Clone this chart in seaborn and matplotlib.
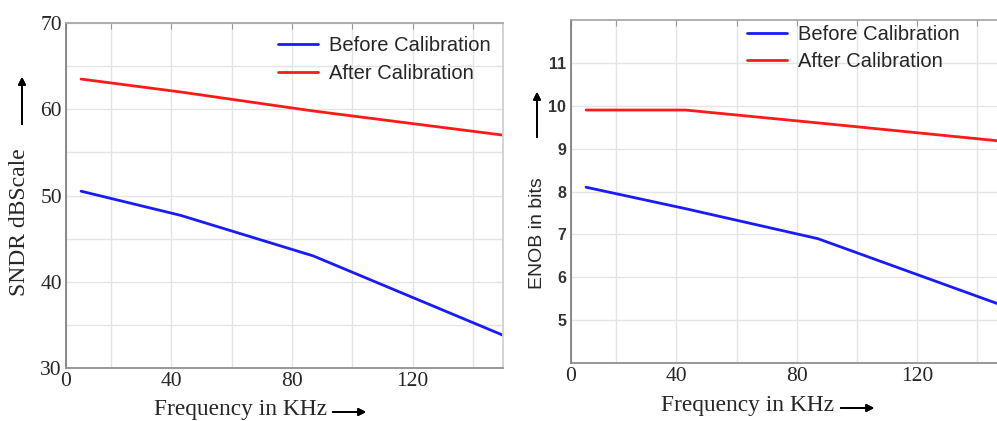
import pandas as pd
import seaborn as sns
import matplotlib.pyplot as plt

# data
freq = [10, 43, 87, 150]
sndr_before = [50.5, 47.7, 43.0, 33.8]
sndr_after = [63.5, 62.0, 59.8, 57.0]
enob_before = [8.1, 7.6, 6.9, 5.3]
enob_after = [9.9, 9.9, 9.6, 9.16]

series_names = ["Before Calibration", "After Calibration"]
x_tick_pos = [5, 20, 40, 60, 80, 100, 120, 140]
x_tick_labels = ["0", "", "40", "", "80", "", "120", ""]
sndr_ticks = [30, 35, 40, 45, 50, 55, 60, 65, 70]
sndr_tick_labels = ["30", "", "40", "", "50", "", "60", "", "70"]
enob_ticks = [5, 6, 7, 8, 9, 10, 11]
enob_tick_labels = ["5", "6", "7", "8", "9", "10", "11"]

sndr_df = pd.DataFrame({
    "freq": freq * 2,
    "val": sndr_before + sndr_after,
    "series": [series_names[0]] * len(freq) + [series_names[1]] * len(freq),
})
enob_df = pd.DataFrame({
    "freq": freq * 2,
    "val": enob_before + enob_after,
    "series": [series_names[0]] * len(freq) + [series_names[1]] * len(freq),
})

sns.set_style("white")
palette = {"Before Calibration": "#1a1aff", "After Calibration": "#ff1a1a"}

fig = plt.figure(figsize=(9.97, 4.21), dpi=100)
W, H = 997, 421
ax1 = fig.add_axes([66 / W, (H - 368) / H, (503 - 66) / W, (368 - 23) / H])
ax2 = fig.add_axes([571 / W, (H - 363) / H, (997 - 571) / W, (363 - 20) / H])

serif = "Liberation Serif"
sans = "Liberation Sans"

for ax, df, yl, yt, xmax in [
    (ax1, sndr_df, (30, 70), sndr_ticks, 150),
    (ax2, enob_df, (4, 12), enob_ticks, 146.5),
]:
    sns.lineplot(data=df, x="freq", y="val", hue="series", hue_order=series_names,
                 palette=palette, linewidth=2.0, ax=ax)
    ax.set_xlim(5, xmax)
    ax.set_ylim(*yl)
    ax.set_xticks(x_tick_pos)
    ax.set_xticklabels(x_tick_labels, fontfamily=serif, fontsize=15.5)
    ax.set_yticks(yt)
    ax.grid(True, color="#e4e4e4", linewidth=1.0)
    ax.tick_params(direction="in", length=4, color="#999999", top=True, right=False)
    ax.tick_params(axis="x", pad=3)
    ax.set_xlabel("")
    ax.set_ylabel("")
    for s in ax.spines.values():
        s.set_color("#a8a8a8")
        s.set_linewidth(1.3)
    ax.spines["left"].set_color("#808080")
    ax.spines["bottom"].set_color("#909090")

ax1.set_yticklabels(sndr_tick_labels, fontfamily=serif, fontsize=15.5)
ax1.tick_params(axis="y", pad=3)
ax2.set_yticklabels(enob_tick_labels, fontfamily=sans, fontsize=11.5, fontweight="bold", color="#333333")
ax2.spines["right"].set_visible(False)
ax1.spines["right"].set_color("#d0d0d0")

legend_kw = dict(loc="upper left", frameon=False, prop={"family": sans, "size": 14.5},
                 handlelength=2.0, handletextpad=0.55, borderpad=0, borderaxespad=0,
                 labelspacing=0.42)
ax1.legend(bbox_to_anchor=(0.485, 0.961), **legend_kw)
ax2.legend(bbox_to_anchor=(0.413, 0.986), **legend_kw)

# axis titles with arrows
fig.text(20 / W, (H - 222) / H, "SNDR dBScale", rotation=90, ha="center", va="center",
         fontfamily=serif, fontsize=17)
fig.text(538 / W, (H - 233) / H, "ENOB in bits", rotation=90, ha="center", va="center",
         fontfamily=sans, fontsize=14)
fig.text(240 / W, (H - 410) / H, "Frequency in KHz", ha="center", va="center",
         fontfamily=serif, fontsize=16.8)
fig.text(747 / W, (H - 406) / H, "Frequency in KHz", ha="center", va="center",
         fontfamily=serif, fontsize=16.8)

arrow = dict(arrowstyle="-|>", color="black", lw=1.3, mutation_scale=11)
for start, end in [((22, H - 127), (22, H - 74)), ((537, H - 140), (537, H - 89)),
                   ((330, H - 412), (369, H - 412)), ((838, H - 408), (877, H - 408))]:
    fig.add_artist(plt.annotate("", xy=end, xytext=start, xycoords="figure pixels",
                                textcoords="figure pixels", arrowprops=arrow))

fig.savefig("out.png", dpi=100)
